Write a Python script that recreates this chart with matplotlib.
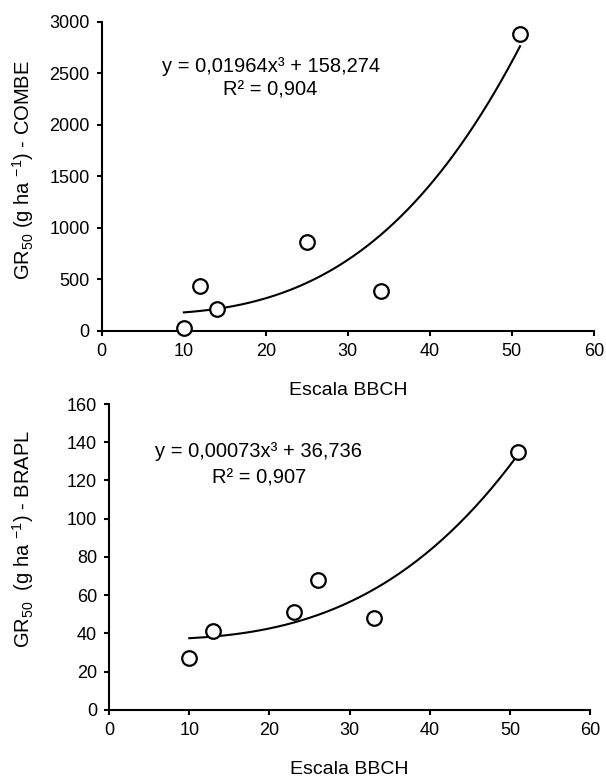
import numpy as np
import matplotlib
matplotlib.use("Agg")
import matplotlib.pyplot as plt

plt.rcParams["font.family"] = ["Liberation Sans", "DejaVu Sans"]
plt.rcParams["mathtext.default"] = "regular"

# BBCH stage vs GR50
combe_x = [10, 12, 14, 25, 34, 51]
combe_y = [25, 432, 215, 864, 384, 2880]
combe_coef = (0.01964, 158.274)
combe_eq = ["y = 0,01964x³ + 158,274", "R² = 0,904"]

brapl_x = [10, 13, 23, 26, 33, 51]
brapl_y = [27, 41, 51, 68, 48, 135]
brapl_coef = (0.00073, 36.736)
brapl_eq = ["y = 0,00073x³ + 36,736", "R² = 0,907"]

xticks = [0, 10, 20, 30, 40, 50, 60]


def panel(ax, xs, ys, coef, eq, ylabel, ymax, ystep, eq_x, eq_y, lab_xy):
    xf = np.linspace(min(xs), max(xs), 200)
    ax.plot(xf, coef[0] * xf ** 3 + coef[1], color="black", lw=1.5, zorder=2)
    ax.plot(xs, ys, "o", ms=10.5, mfc="white", mec="black", mew=1.6,
            zorder=3, clip_on=False)
    ax.set_xlim(0, 60)
    ax.set_ylim(0, ymax)
    ax.set_xticks(xticks)
    ax.set_yticks(np.arange(0, ymax + 1, ystep))
    for s in ("top", "right"):
        ax.spines[s].set_visible(False)
    for s in ("left", "bottom"):
        ax.spines[s].set_linewidth(1.5)
    ax.tick_params(direction="out", length=3.6, width=1.5, labelsize=13, pad=5)
    ax.set_xlabel("Escala BBCH", fontsize=14, labelpad=16)
    ax.set_ylabel(ylabel, fontsize=14.5)
    ax.yaxis.set_label_coords(*lab_xy)
    for txt, yy in zip(eq, eq_y):
        ax.text(eq_x, yy, txt, transform=ax.transAxes, ha="center",
                va="center", fontsize=14.5)


fig = plt.figure(figsize=(6.06, 7.8), dpi=100)
ax1 = fig.add_axes([0.168, 0.576, 0.812, 0.396])
ax2 = fig.add_axes([0.180, 0.090, 0.794, 0.392])

panel(ax1, combe_x, combe_y, combe_coef, combe_eq,
      "GR$_{50}$ (g ha $^{-1}$) - COMBE", 3000, 500,
      0.343, (0.854, 0.780), (-0.134, 0.52))
panel(ax2, brapl_x, brapl_y, brapl_coef, brapl_eq,
      "GR$_{50}$  (g ha $^{-1}$) - BRAPL", 160, 20,
      0.311, (0.846, 0.758), (-0.152, 0.56))

fig.savefig("out.png", dpi=100)
